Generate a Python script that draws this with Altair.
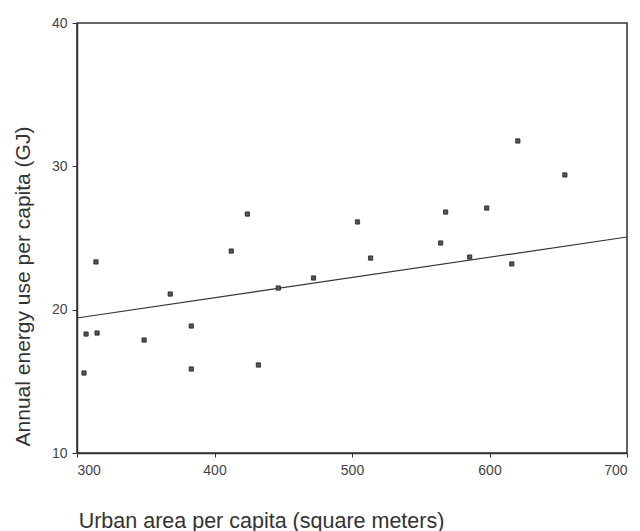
import altair as alt
import pandas as pd

# Scatter data
urban_area = [306.6, 314.6, 305.1, 313.8, 348.8, 367.8, 383.1, 383.1, 412.2, 423.9, 431.9,
              446.4, 472.0, 504.0, 513.5, 564.5, 568.1, 598.0, 585.6, 616.2, 620.6, 654.8]
energy_use = [18.30, 18.37, 15.58, 23.33, 17.88, 21.09, 18.86, 15.86, 24.09, 26.67, 16.14,
              21.51, 22.21, 26.12, 23.60, 24.65, 26.81, 27.09, 23.67, 23.19, 31.77, 29.40]

# Fitted line endpoints
fit_x = [300, 700]
fit_y = [19.42, 25.07]

x_ticks = [300, 400, 500, 600, 700]
y_ticks = [10, 20, 30, 40]

pts = pd.DataFrame({"x": urban_area, "y": energy_use})
fit = pd.DataFrame({"x": fit_x, "y": fit_y})

FONT = "Liberation Sans"

xscale = alt.Scale(domain=[300, 700], nice=False, zero=False)
yscale = alt.Scale(domain=[10, 40], nice=False, zero=False)

xaxis = alt.Axis(
    values=x_ticks, title="Urban area per capita (square meters)", grid=False,
    labelFont=FONT, labelFontSize=14, labelColor="#444", labelPadding=6,
    tickColor="#333", tickSize=4, domainColor="#333", domainWidth=1.5,
    titleFont=FONT, titleFontSize=21.5, titleFontWeight="normal", titleColor="#333",
    titleAnchor="start", titleAlign="center", titleX=184, titleY=74, titleBaseline="alphabetic",
)
yaxis = alt.Axis(
    values=y_ticks, title="Annual energy use per capita (GJ)", grid=False,
    labelFont=FONT, labelFontSize=14, labelColor="#444", labelPadding=5,
    tickColor="#333", tickSize=5, domainColor="#333", domainWidth=1.5,
    titleFont=FONT, titleFontSize=21, titleFontWeight="normal", titleColor="#333",
    titleAnchor="start", titleAlign="center", titleX=-54, titleY=263, titleBaseline="middle",
    titleAngle=270,
)

points = alt.Chart(pts).mark_point(
    shape="square", size=18, filled=True, color="#555", stroke="#222", strokeWidth=0.8, opacity=1
).encode(
    x=alt.X("x:Q", scale=xscale, axis=xaxis),
    y=alt.Y("y:Q", scale=yscale, axis=yaxis),
)

line = alt.Chart(fit).mark_line(color="#333", strokeWidth=1.2).encode(
    x=alt.X("x:Q", scale=xscale),
    y=alt.Y("y:Q", scale=yscale),
)

chart = alt.layer(line, points).properties(
    width=550, height=430,
    autosize=alt.AutoSizeParams(type="none"),
    padding={"left": 77, "top": 23, "right": 13, "bottom": 78},
    background="white",
).configure_view(stroke="#333", strokeWidth=1.5)

chart.save("out.html", embed_options={"renderer": "svg", "actions": False})
